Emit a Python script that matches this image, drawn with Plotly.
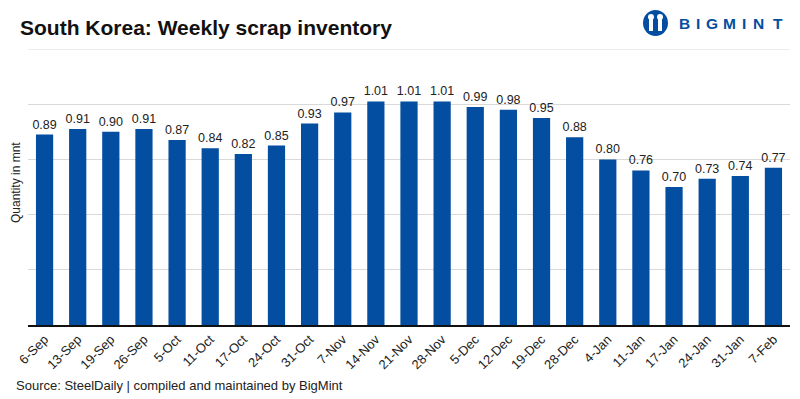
import plotly.graph_objects as go

weeks = ["6-Sep", "13-Sep", "19-Sep", "26-Sep", "5-Oct", "11-Oct", "17-Oct", "24-Oct",
         "31-Oct", "7-Nov", "14-Nov", "21-Nov", "28-Nov", "5-Dec", "12-Dec", "19-Dec",
         "28-Dec", "4-Jan", "11-Jan", "17-Jan", "24-Jan", "31-Jan", "7-Feb"]
inventory = [0.89, 0.91, 0.90, 0.91, 0.87, 0.84, 0.82, 0.85, 0.93, 0.97, 1.01, 1.01,
             1.01, 0.99, 0.98, 0.95, 0.88, 0.80, 0.76, 0.70, 0.73, 0.74, 0.77]

W, H = 800, 399
L, R, T, B = 28, 10, 49, 74
PW, PH = W - L - R, H - T - B

def px(x):
    return (x - L) / PW

def py(y):
    return (H - B - y) / PH

BLUE = "#034EA1"
FONT = "Liberation Sans, Arial, sans-serif"

fig = go.Figure(go.Bar(
    x=weeks, y=inventory, marker_color=BLUE, marker_line_width=0,
    text=[f"{v:.2f}" for v in inventory], textposition="outside",
    textfont=dict(size=12.5, color="#222222", family=FONT), constraintext="none",
    cliponaxis=False, hoverinfo="x+y",
))

annotations = [
    dict(text="<b>South Korea: Weekly scrap inventory</b>", xref="paper", yref="paper",
         x=px(18), y=py(27), xanchor="left", yanchor="middle", showarrow=False,
         font=dict(size=21, color="#111111", family=FONT)),
    dict(text="Quantity in mnt", xref="paper", yref="paper", x=px(16), y=py(183),
         xanchor="center", yanchor="middle", textangle=-90, showarrow=False,
         font=dict(size=12, color="#222222", family=FONT)),
    dict(text="Source: SteelDaily | compiled and maintained by BigMint", xref="paper",
         yref="paper", x=px(14), y=py(385), xanchor="left", yanchor="middle",
         showarrow=False, font=dict(size=13, color="#222222", family=FONT)),
]
logo_letters = ["B", "I", "G", "M", "I", "N", "T"]
logo_x = [684, 697.5, 711.5, 729.5, 743.5, 758, 777.5]
for ch, lx in zip(logo_letters, logo_x):
    annotations.append(dict(text=f"<b>{ch}</b>", xref="paper", yref="paper", x=px(lx),
                            y=py(23), xanchor="center", yanchor="middle", showarrow=False,
                            font=dict(size=15.5, color=BLUE, family=FONT)))

shapes = [
    dict(type="line", xref="paper", yref="y", x0=0, x1=1, y0=1.2, y1=1.2,
         line=dict(color="#d9d9d9", width=1), layer="below"),
    dict(type="circle", xref="paper", yref="paper", x0=px(643), x1=px(668),
         y0=py(36), y1=py(10), fillcolor=BLUE, line_width=0),
    dict(type="circle", xref="paper", yref="paper", x0=px(648), x1=px(654),
         y0=py(20), y1=py(14), fillcolor="white", line_width=0),
    dict(type="circle", xref="paper", yref="paper", x0=px(657), x1=px(663),
         y0=py(20), y1=py(14), fillcolor="white", line_width=0),
    dict(type="rect", xref="paper", yref="paper", x0=px(649), x1=px(653),
         y0=py(31), y1=py(19), fillcolor="white", line_width=0),
    dict(type="rect", xref="paper", yref="paper", x0=px(658), x1=px(662),
         y0=py(31), y1=py(19), fillcolor="white", line_width=0),
]

fig.update_layout(
    width=W, height=H, margin=dict(l=L, r=R, t=T, b=B, pad=0, autoexpand=False),
    paper_bgcolor="white", plot_bgcolor="white", showlegend=False,
    bargap=0.48, font=dict(family=FONT, color="#222222"),
    annotations=annotations, shapes=shapes,
    xaxis=dict(tickangle=-45, tickfont=dict(size=13, color="#222222"), showline=True,
               linecolor="#111111", linewidth=1.5, ticks="", showgrid=False,
               fixedrange=True, automargin=False),
    yaxis=dict(range=[0.2, 1.2], dtick=0.2, tick0=0.2, showticklabels=False,
               gridcolor="#d9d9d9", gridwidth=1, zeroline=False, ticks="",
               fixedrange=True, automargin=False),
)

fig.write_html("out.html", config={"displayModeBar": False},
               post_script="document.body.style.margin='0';document.body.style.overflow='hidden';")
